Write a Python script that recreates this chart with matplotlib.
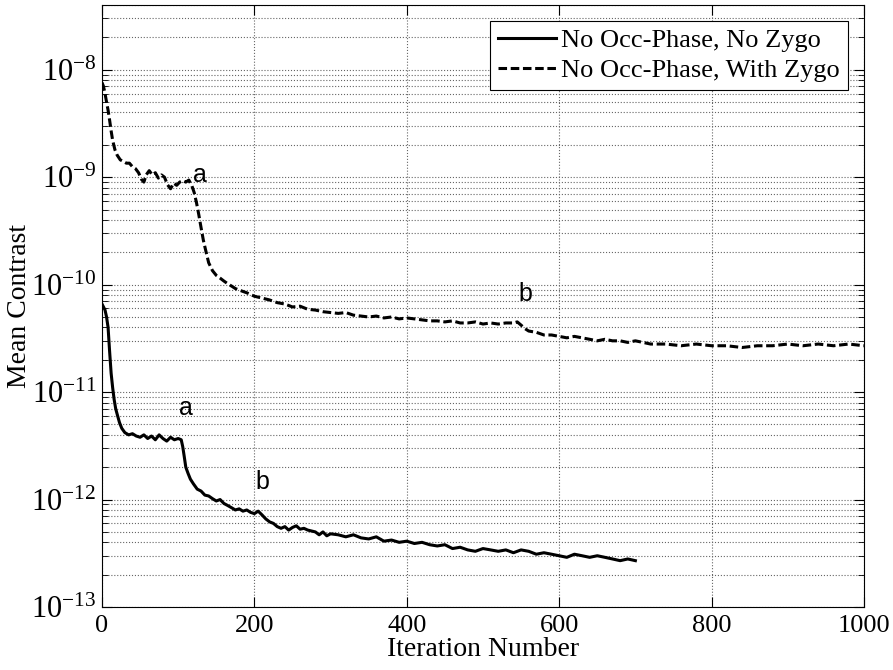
import numpy as np
import matplotlib
matplotlib.use("Agg")
import matplotlib.pyplot as plt
from matplotlib.ticker import LogLocator, NullFormatter, FuncFormatter

plt.rcParams['font.family'] = ['Liberation Serif', 'DejaVu Serif']
plt.rcParams['mathtext.fontset'] = 'custom'
plt.rcParams['mathtext.rm'] = 'Liberation Serif'
plt.rcParams['mathtext.it'] = 'Liberation Serif:italic'

# No Occ-Phase, No Zygo  (contrast in units of 1e-12)
iter_no_zygo = [0, 2, 4, 6, 8, 10, 12, 14, 16, 18, 20, 23, 26, 30, 35, 40, 45, 50, 55, 60,
                65, 70, 75, 80, 85, 90, 95, 100, 104, 106, 108, 110, 113, 116, 120, 125, 130,
                135, 140, 145, 150, 155, 160, 165, 170, 175, 180, 185, 190, 195, 200, 205,
                210, 215, 220, 225, 230, 235, 240, 245, 250, 255, 260, 265, 270, 280, 285,
                290, 295, 300, 310, 320, 330, 340, 350, 360, 370, 380, 390, 400, 410, 420,
                430, 440, 450, 460, 470, 480, 490, 500, 510, 520, 530, 540, 550, 560, 570,
                580, 590, 600, 610, 620, 630, 640, 650, 660, 670, 680, 690, 700]
contrast_no_zygo = [66, 62, 58, 50, 40, 24, 15, 11, 8.5, 7, 6.2, 5.2, 4.6, 4.2, 4.0, 4.1, 3.9,
                    3.8, 4.0, 3.7, 3.9, 3.6, 4.0, 3.7, 3.5, 3.8, 3.6, 3.7, 3.6, 3.1, 2.5, 2.0,
                    1.75, 1.55, 1.4, 1.25, 1.2, 1.1, 1.08, 1.02, 0.97, 1.0, 0.92, 0.88, 0.84,
                    0.80, 0.82, 0.78, 0.80, 0.76, 0.74, 0.78, 0.72, 0.66, 0.62, 0.60, 0.56,
                    0.54, 0.56, 0.52, 0.55, 0.57, 0.53, 0.54, 0.52, 0.50, 0.47, 0.50, 0.46,
                    0.48, 0.47, 0.45, 0.47, 0.44, 0.43, 0.45, 0.41, 0.42, 0.40, 0.41, 0.39,
                    0.40, 0.38, 0.37, 0.38, 0.35, 0.36, 0.34, 0.33, 0.35, 0.34, 0.33, 0.34,
                    0.32, 0.34, 0.33, 0.31, 0.32, 0.31, 0.30, 0.29, 0.31, 0.30, 0.29, 0.30,
                    0.29, 0.28, 0.27, 0.28, 0.27]

# No Occ-Phase, With Zygo  (contrast in units of 1e-10)
iter_zygo = [0, 2, 4, 6, 8, 10, 12, 14, 17, 20, 24, 28, 32, 36, 40, 44, 48, 52, 55, 58, 62,
             66, 70, 74, 78, 82, 86, 90, 94, 98, 102, 106, 110, 114, 118, 121, 124, 127, 130,
             133, 136, 140, 145, 150, 155, 160, 165, 170, 175, 180, 190, 200, 210, 220, 230,
             240, 250, 260, 270, 280, 290, 300, 310, 320, 330, 340, 350, 360, 370, 380, 390,
             400, 410, 420, 430, 440, 450, 460, 470, 480, 490, 500, 510, 520, 530, 540, 545,
             550, 555, 560, 570, 580, 590, 600, 610, 620, 630, 640, 650, 660, 670, 680, 690,
             700, 710, 720, 740, 760, 780, 800, 820, 840, 860, 880, 900, 920, 940, 960, 980,
             1000]
contrast_zygo = [76, 70, 60, 50, 42, 34, 27, 22, 18, 16, 14.5, 14, 13.5, 13.5, 12.5, 12, 11,
                 9.5, 9.0, 10.5, 11.5, 10.5, 11, 9.8, 10.5, 10, 8.5, 7.8, 8.8, 8.4, 9.0, 9.3,
                 9.0, 9.4, 8.3, 7.2, 5.8, 4.5, 3.4, 2.6, 2.1, 1.6, 1.35, 1.22, 1.15, 1.08,
                 1.02, 0.97, 0.92, 0.89, 0.84, 0.78, 0.75, 0.72, 0.68, 0.66, 0.62, 0.63, 0.59,
                 0.58, 0.56, 0.55, 0.54, 0.55, 0.52, 0.51, 0.50, 0.51, 0.49, 0.50, 0.48, 0.49,
                 0.48, 0.47, 0.46, 0.46, 0.45, 0.46, 0.44, 0.44, 0.45, 0.43, 0.44, 0.43, 0.44,
                 0.44, 0.45, 0.42, 0.39, 0.37, 0.36, 0.34, 0.34, 0.33, 0.32, 0.33, 0.32, 0.31,
                 0.30, 0.31, 0.30, 0.30, 0.29, 0.30, 0.29, 0.28, 0.28, 0.27, 0.28, 0.27, 0.27,
                 0.26, 0.27, 0.27, 0.28, 0.27, 0.28, 0.27, 0.28, 0.27]

labels = ["No Occ-Phase, No Zygo", "No Occ-Phase, With Zygo"]

fig = plt.figure(figsize=(8.93, 6.7), dpi=100)
ax = fig.add_axes([0.1142, 0.094, 0.8533, 0.8985])

ax.semilogy(iter_no_zygo, np.array(contrast_no_zygo) * 1e-12, color='k', lw=2.2,
            label=labels[0])
ax.semilogy(iter_zygo, np.array(contrast_zygo) * 1e-10, color='k', lw=2.2,
            dashes=(2.8, 1.2), label=labels[1])

ax.set_xlim(0, 1000)
ax.set_ylim(1e-13, 4e-8)
ax.set_xticks([0, 200, 400, 600, 800, 1000])
ax.yaxis.set_major_locator(LogLocator(base=10, numticks=10))
ax.yaxis.set_major_formatter(FuncFormatter(
    lambda v, p: r'$\mathregular{10^{%d}}$' % int(round(np.log10(v)))))
ax.yaxis.set_minor_locator(LogLocator(base=10, subs=np.arange(2, 10), numticks=20))
ax.yaxis.set_minor_formatter(NullFormatter())

ax.grid(True, which='major', ls=':', color='0.4', lw=0.8)
ax.grid(True, which='minor', axis='y', ls=':', color='0.4', lw=0.8)
ax.tick_params(which='both', direction='in', top=True, right=True)
ax.tick_params(which='major', length=7)
ax.tick_params(which='minor', length=4)
ax.tick_params(axis='x', labelsize=19, pad=6)
ax.tick_params(axis='y', labelsize=22, pad=4)

ax.set_xlabel("Iteration Number", fontsize=20, labelpad=0)
ax.set_ylabel("Mean Contrast", fontsize=20)
ax.yaxis.set_label_coords(-0.092, 0.5)

# annotations
ax.text(129, 1.04e-9, "a", fontsize=18, family='Liberation Sans', ha='center', va='center')
ax.text(556, 8.2e-11, "b", fontsize=18, family='Liberation Sans', ha='center', va='center')
ax.text(110, 7.1e-12, "a", fontsize=18, family='Liberation Sans', ha='center', va='center')
ax.text(211, 1.46e-12, "b", fontsize=18, family='Liberation Sans', ha='center', va='center')

leg = ax.legend(loc='upper right', fontsize=19, fancybox=False, framealpha=1,
                edgecolor='k', handlelength=2.2, handletextpad=0.2, labelspacing=0.25,
                borderpad=0.3, borderaxespad=0.6)
leg.get_frame().set_linewidth(0.8)

fig.savefig("out.png", dpi=100)
